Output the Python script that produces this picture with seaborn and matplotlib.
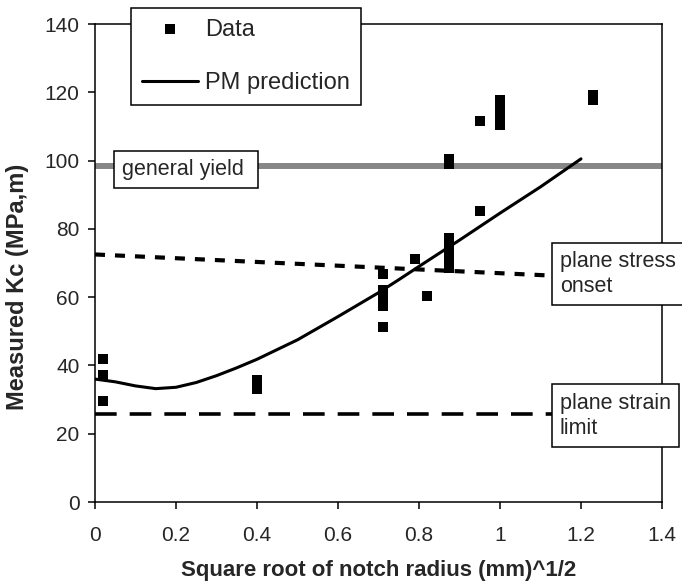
import numpy as np
import pandas as pd
import matplotlib
matplotlib.use("Agg")
import matplotlib.pyplot as plt
import seaborn as sns

# measured points
data_x = [0.019, 0.019, 0.019,
          0.40, 0.40, 0.40,
          0.71, 0.71, 0.71, 0.71, 0.71,
          0.79, 0.82,
          0.874, 0.874, 0.874, 0.874, 0.874, 0.874, 0.874,
          0.95, 0.95,
          1.0, 1.0, 1.0, 1.0,
          1.229, 1.229]
data_y = [42.0, 37.3, 29.6,
          35.8, 34.3, 33.0,
          66.8, 62.1, 59.8, 57.5, 51.3,
          71.2, 60.3,
          100.5, 99.0, 77.3, 74.5, 72.0, 70.0, 68.5,
          111.5, 85.1,
          117.7, 115.5, 113.0, 110.5,
          119.2, 117.7]

# PM prediction curve
pm_x = [0.0, 0.05, 0.1, 0.15, 0.2, 0.25, 0.3, 0.35, 0.4, 0.5, 0.6, 0.7, 0.75, 0.8, 0.9, 1.0, 1.1, 1.2]
pm_y = [36.0, 35.2, 34.0, 33.2, 33.6, 35.0, 37.0, 39.3, 41.8, 47.5, 54.3, 61.3, 65.1, 69.0, 76.7, 84.6, 92.3, 100.5]

# reference levels
yield_x, yield_y = [0.0, 1.4], [98.5, 98.5]
stress_x, stress_y = [0.0, 1.13], [72.5, 66.3]
strain_x, strain_y = [0.0, 1.13], [25.8, 25.8]

xticks = [0, 0.2, 0.4, 0.6, 0.8, 1.0, 1.2, 1.4]
xticklabels = ["0", "0.2", "0.4", "0.6", "0.8", "1", "1.2", "1.4"]
yticks = [0, 20, 40, 60, 80, 100, 120, 140]

sns.set_style("white")
plt.rcParams["font.family"] = ["Liberation Sans", "DejaVu Sans"]

df = pd.DataFrame({"x": data_x, "y": data_y})
pm = pd.DataFrame({"x": pm_x, "y": pm_y})

fig = plt.figure(figsize=(6.82, 5.84), dpi=100)
ax = fig.add_axes([95/682, 1-502/584, 567/682, 478/584])

ax.plot(yield_x, yield_y, color="#878787", lw=4.3, solid_capstyle="butt", zorder=2, label="_nolegend_")
ax.plot(stress_x, stress_y, color="black", lw=3, dashes=(2.4, 2.4), zorder=2, label="_nolegend_")
ax.plot(strain_x, strain_y, color="black", lw=2.6, dashes=(6.0, 3.6), zorder=2, label="_nolegend_")
sns.lineplot(data=pm, x="x", y="y", color="black", lw=2.2, sort=False, estimator=None,
             ax=ax, label="PM prediction", zorder=3)
sns.scatterplot(data=df, x="x", y="y", marker="s", color="black", s=57, linewidth=0,
                ax=ax, label="Data", zorder=4)

ax.set_xlim(0, 1.4)
ax.set_ylim(0, 140)
ax.set_xticks(xticks)
ax.set_xticklabels(xticklabels)
ax.set_yticks(yticks)
ax.tick_params(direction="out", length=5, width=1.1, labelsize=15, color="black", bottom=True, left=True)
ax.tick_params(axis="x", pad=12)
ax.tick_params(axis="y", pad=6)
for s in ax.spines.values():
    s.set_color("black")
    s.set_linewidth(1.1)

ax.set_xlabel("Square root of notch radius (mm)^1/2", fontsize=16, fontweight="bold", va="center")
ax.set_ylabel("Measured Kc (MPa,m)", fontsize=17, fontweight="bold")
ax.xaxis.set_label_coords(0.5, -0.143)
ax.yaxis.set_label_coords(-0.117, 0.45)

box = dict(boxstyle="square,pad=0.38", facecolor="white", edgecolor="black", linewidth=1.1)
ax.text(0.066, 97.4, "general yield ", fontsize=15.5, va="center", ha="left", bbox=box, zorder=6)
ax.text(1.148, 66.8, "plane stress\nonset", fontsize=15.5, va="center", ha="left",
        linespacing=1.25, bbox=box, zorder=6, clip_on=False)
ax.text(1.148, 25.3, "plane strain\nlimit", fontsize=15.5, va="center", ha="left",
        linespacing=1.25, bbox=box, zorder=6, clip_on=False)

h, l = ax.get_legend_handles_labels()
order = [l.index("Data"), l.index("PM prediction")]
leg = ax.legend([h[i] for i in order], [l[i] for i in order],
                loc="upper left", bbox_to_anchor=(131/682, 1-8/584), bbox_transform=fig.transFigure,
                fontsize=17, frameon=True, fancybox=False, framealpha=1, edgecolor="black",
                borderpad=0.45, labelspacing=1.35, handlelength=2.4, handletextpad=0.3,
                borderaxespad=0, markerscale=1.0)
leg.get_frame().set_linewidth(1.1)

fig.savefig("out.png", dpi=100)
